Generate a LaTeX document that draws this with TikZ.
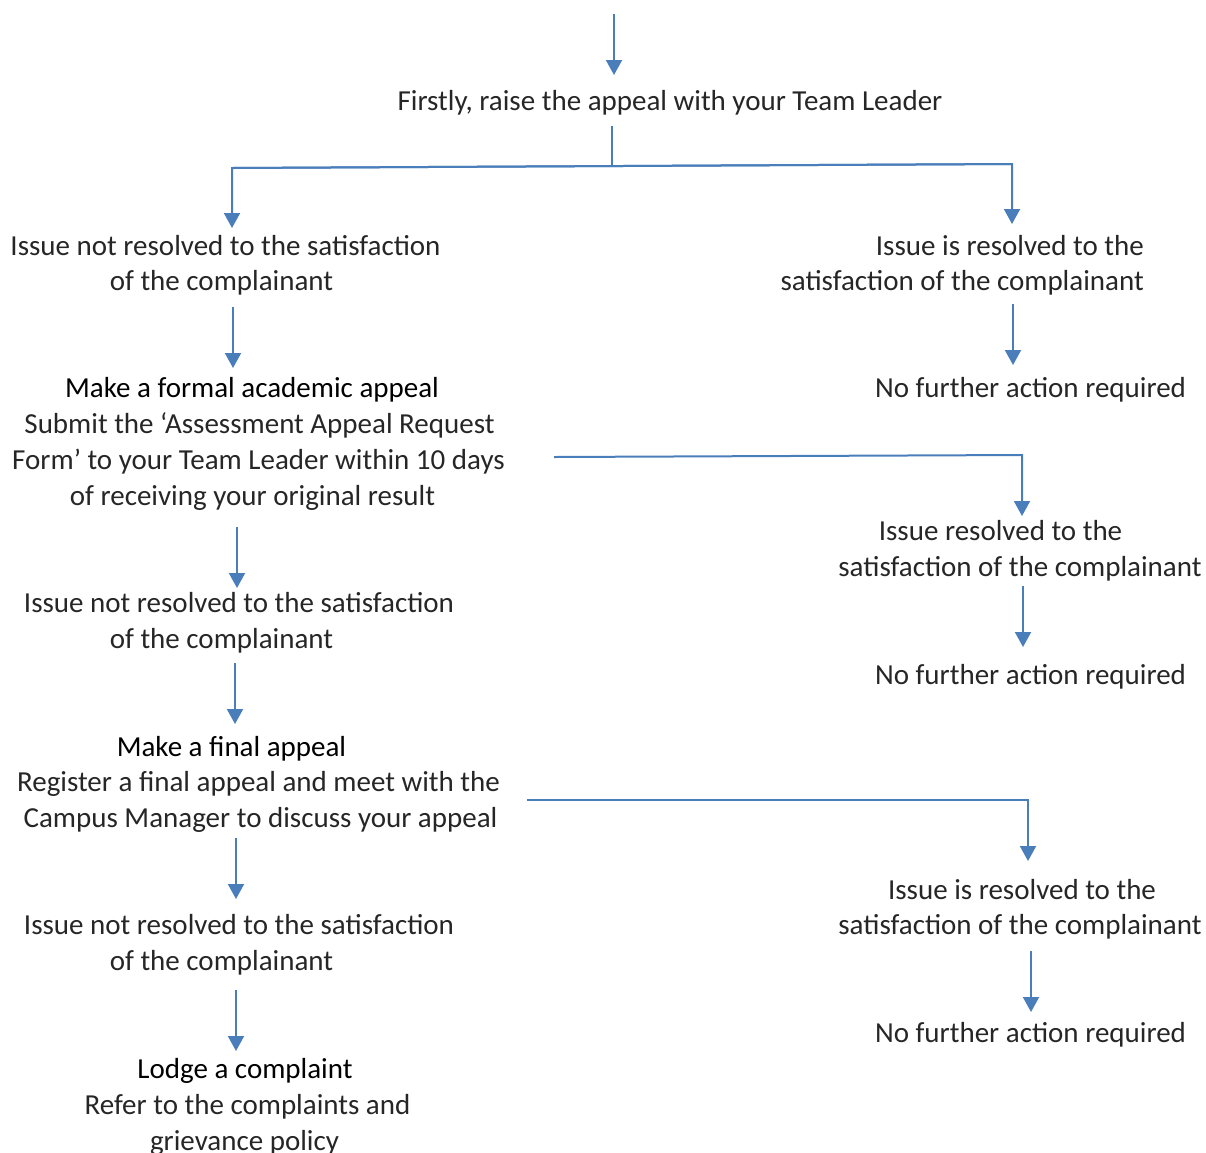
\documentclass[tikz,border=0pt]{standalone}
\usepackage{fontspec}
\setmainfont{Carlito}
\usetikzlibrary{arrows.meta}
\definecolor{arrowblue}{RGB}{74,126,187}
\begin{document}
\begin{tikzpicture}[x=1pt,y=-1pt,
  txt/.style={font=\fontsize{29}{36}\selectfont, text=black!85, inner sep=0pt, anchor=base},
  rtxt/.style={txt, anchor=base east},
  head/.style={txt, text=black},
  link/.style={draw=arrowblue, line width=2pt, line join=miter},
  arr/.style={link, -{Triangle[width=16pt,length=15pt]}}]
\useasboundingbox (0,0) rectangle (1206,1152);

% ---- texts ----
\node[txt] (t1) at (670,110) {Firstly, raise the appeal with your Team Leader};
\node[txt] (t2) at (225.5,255) {Issue not resolved to the satisfaction};
\node[txt] (t3) at (221.5,290) {of the complainant};
\node[rtxt] (t4) at (1144,255) {Issue is resolved to the};
\node[rtxt] (t5) at (1144,290) {satisfaction of the complainant};
\node[txt] (t6) at (1030.5,397) {No further action required};
\node[head] (t7) at (252,397) {Make a formal academic appeal};
\node[txt] (t8) at (259.5,433) {Submit the ‘Assessment Appeal Request};
\node[txt] (t9) at (258.5,469) {Form’ to your Team Leader within 10 days};
\node[txt] (t10) at (252.5,505) {of receiving your original result};
\node[txt] (t11) at (1000.5,540) {Issue resolved to the};
\node[txt] (t12) at (1020,576) {satisfaction of the complainant};
\node[txt] (t13) at (1030.5,684) {No further action required};
\node[txt] (t14) at (239,612) {Issue not resolved to the satisfaction};
\node[txt] (t15) at (221.5,648) {of the complainant};
\node[head] (t16) at (231.5,756) {Make a final appeal};
\node[txt] (t17) at (258.5,791) {Register a final appeal and meet with the};
\node[txt] (t18) at (260.5,827) {Campus Manager to discuss your appeal};
\node[txt] (t19) at (1022,899) {Issue is resolved to the};
\node[txt] (t20) at (1020,934) {satisfaction of the complainant};
\node[txt] (t21) at (1030.5,1042) {No further action required};
\node[txt] (t22) at (239,934) {Issue not resolved to the satisfaction};
\node[txt] (t23) at (221.5,970) {of the complainant};
\node[head] (t24) at (245,1078) {Lodge a complaint};
\node[txt] (t25) at (247.5,1114) {Refer to the complaints and};
\node[txt] (t26) at (244.5,1150) {grievance policy};

% ---- connector coordinates ----
\coordinate (a1s) at (614,14);   \coordinate (a1e) at (614,75);
\coordinate (a2s) at (612,126);  \coordinate (a2m) at (612,165.5);
\coordinate (jL) at (232,168);   \coordinate (jR) at (1012,164);
\coordinate (aL) at (232,228);   \coordinate (aR) at (1012,224);
\coordinate (a3s) at (233,307);  \coordinate (a3e) at (233,368);
\coordinate (a4s) at (1013,304); \coordinate (a4e) at (1013,365);
\coordinate (a5s) at (554,457);  \coordinate (a5m) at (1022,455); \coordinate (a5e) at (1022,516);
\coordinate (a6s) at (1023,586); \coordinate (a6e) at (1023,647);
\coordinate (a7s) at (237,527);  \coordinate (a7e) at (237,588);
\coordinate (a8s) at (235,663);  \coordinate (a8e) at (235,724);
\coordinate (a9s) at (527,800);  \coordinate (a9m) at (1028,800); \coordinate (a9e) at (1028,861);
\coordinate (a10s) at (236,838); \coordinate (a10e) at (236,899);
\coordinate (a11s) at (1031,951);\coordinate (a11e) at (1031,1012);
\coordinate (a12s) at (236,990); \coordinate (a12e) at (236,1051);

% ---- connectors ----
\draw[arr] (a1s) -- (a1e);
\draw[link] (a2s) -- (a2m);
\draw[arr] (jR) -- (jL) -- (aL);
\draw[arr] (jL) -- (jR) -- (aR);
\draw[arr] (a3s) -- (a3e);
\draw[arr] (a4s) -- (a4e);
\draw[arr] (a5s) -- (a5m) -- (a5e);
\draw[arr] (a6s) -- (a6e);
\draw[arr] (a7s) -- (a7e);
\draw[arr] (a8s) -- (a8e);
\draw[arr] (a9s) -- (a9m) -- (a9e);
\draw[arr] (a10s) -- (a10e);
\draw[arr] (a11s) -- (a11e);
\draw[arr] (a12s) -- (a12e);
\end{tikzpicture}
\end{document}
